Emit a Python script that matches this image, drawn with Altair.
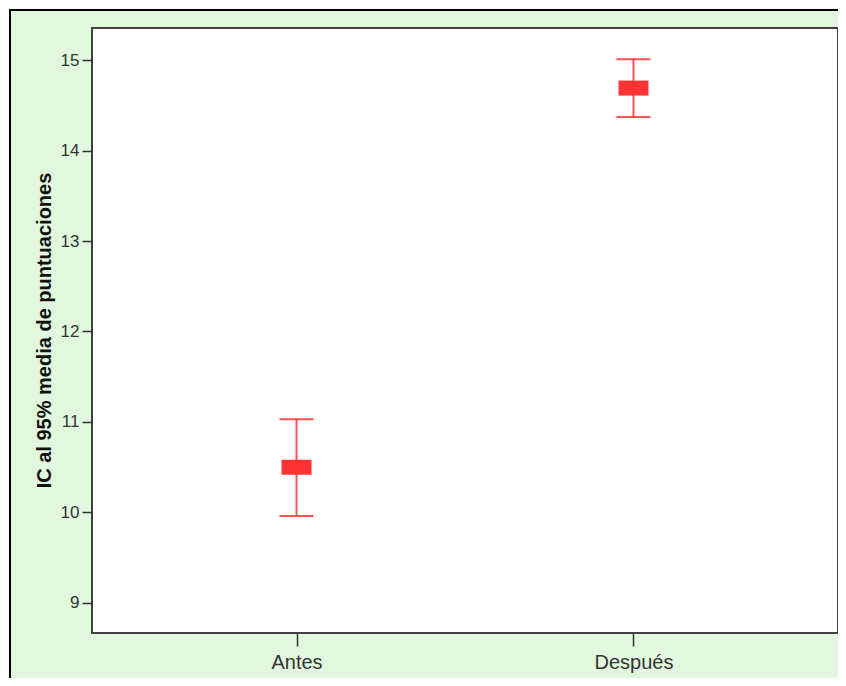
import altair as alt
import pandas as pd

grupos = ["Antes", "Después"]
medias = [10.50, 14.69]
inferior = [9.96, 14.37]
superior = [11.03, 15.01]
ticks_y = [9, 10, 11, 12, 13, 14, 15]

df = pd.DataFrame({"grupo": grupos, "media": medias, "lo": inferior, "hi": superior})

RED = "#ff3333"
x = alt.X("grupo:N", sort=grupos,
          scale=alt.Scale(type="point", padding=0.607),
          axis=alt.Axis(title=None, labelAngle=0, labelFontSize=20, labelColor="#333333",
                        labelFont="Liberation Sans", tickSize=13, tickColor="#333333",
                        tickWidth=1.5, domain=False, labelPadding=6, zindex=2))
yscale = alt.Scale(domain=[8.668, 15.354], nice=False, zero=False)
yaxis = alt.Axis(title="IC al 95% media de puntuaciones", values=ticks_y, grid=False,
                 domain=False, tickSize=10, tickColor="#333333", tickWidth=1.5,
                 labelFontSize=17, labelColor="#333333", labelFont="Liberation Sans",
                 labelPadding=3, titleFont="Liberation Sans", titleFontSize=20,
                 titleFontWeight="bold", titleColor="#111111", titleAngle=-90,
                 titleX=-48, titleY=302, titleBaseline="middle", titleAlign="center",
                 zindex=2)

base = alt.Chart(df)

frame = alt.Chart(alt.Data(values=[{"a": 1}])).mark_rect(
    fill="#e1f8df", stroke="black", strokeWidth=2
).encode(x=alt.value(-82), y=alt.value(-18), x2=alt.value(800), y2=alt.value(720))

plotbg = alt.Chart(alt.Data(values=[{"a": 1}])).mark_rect(
    fill="white", stroke="#404040", strokeWidth=2
).encode(x=alt.value(0), y=alt.value(0), x2=alt.value(746), y2=alt.value(605))

rule = base.mark_rule(color=RED, strokeWidth=2, opacity=0.85).encode(
    x=x, y=alt.Y("lo:Q", scale=yscale, axis=yaxis), y2="hi:Q")
cap_lo = base.mark_tick(color=RED, size=34, thickness=2, opacity=0.85).encode(
    x=x, y=alt.Y("lo:Q", scale=yscale, axis=yaxis))
cap_hi = base.mark_tick(color=RED, size=34, thickness=2, opacity=0.85).encode(
    x=x, y=alt.Y("hi:Q", scale=yscale, axis=yaxis))
box = base.mark_tick(color=RED, size=30, thickness=15, opacity=1).encode(
    x=x, y=alt.Y("media:Q", scale=yscale, axis=yaxis))

chart = alt.layer(frame, plotbg, rule, cap_lo, cap_hi, box).properties(
    width=746, height=605,
    autosize=alt.AutoSizeParams(type="none"),
    padding={"left": 84, "top": 20, "right": 0, "bottom": 45},
    background="white",
).configure_view(stroke=None)

chart.save("out.html", embed_options={"renderer": "svg", "actions": False})
